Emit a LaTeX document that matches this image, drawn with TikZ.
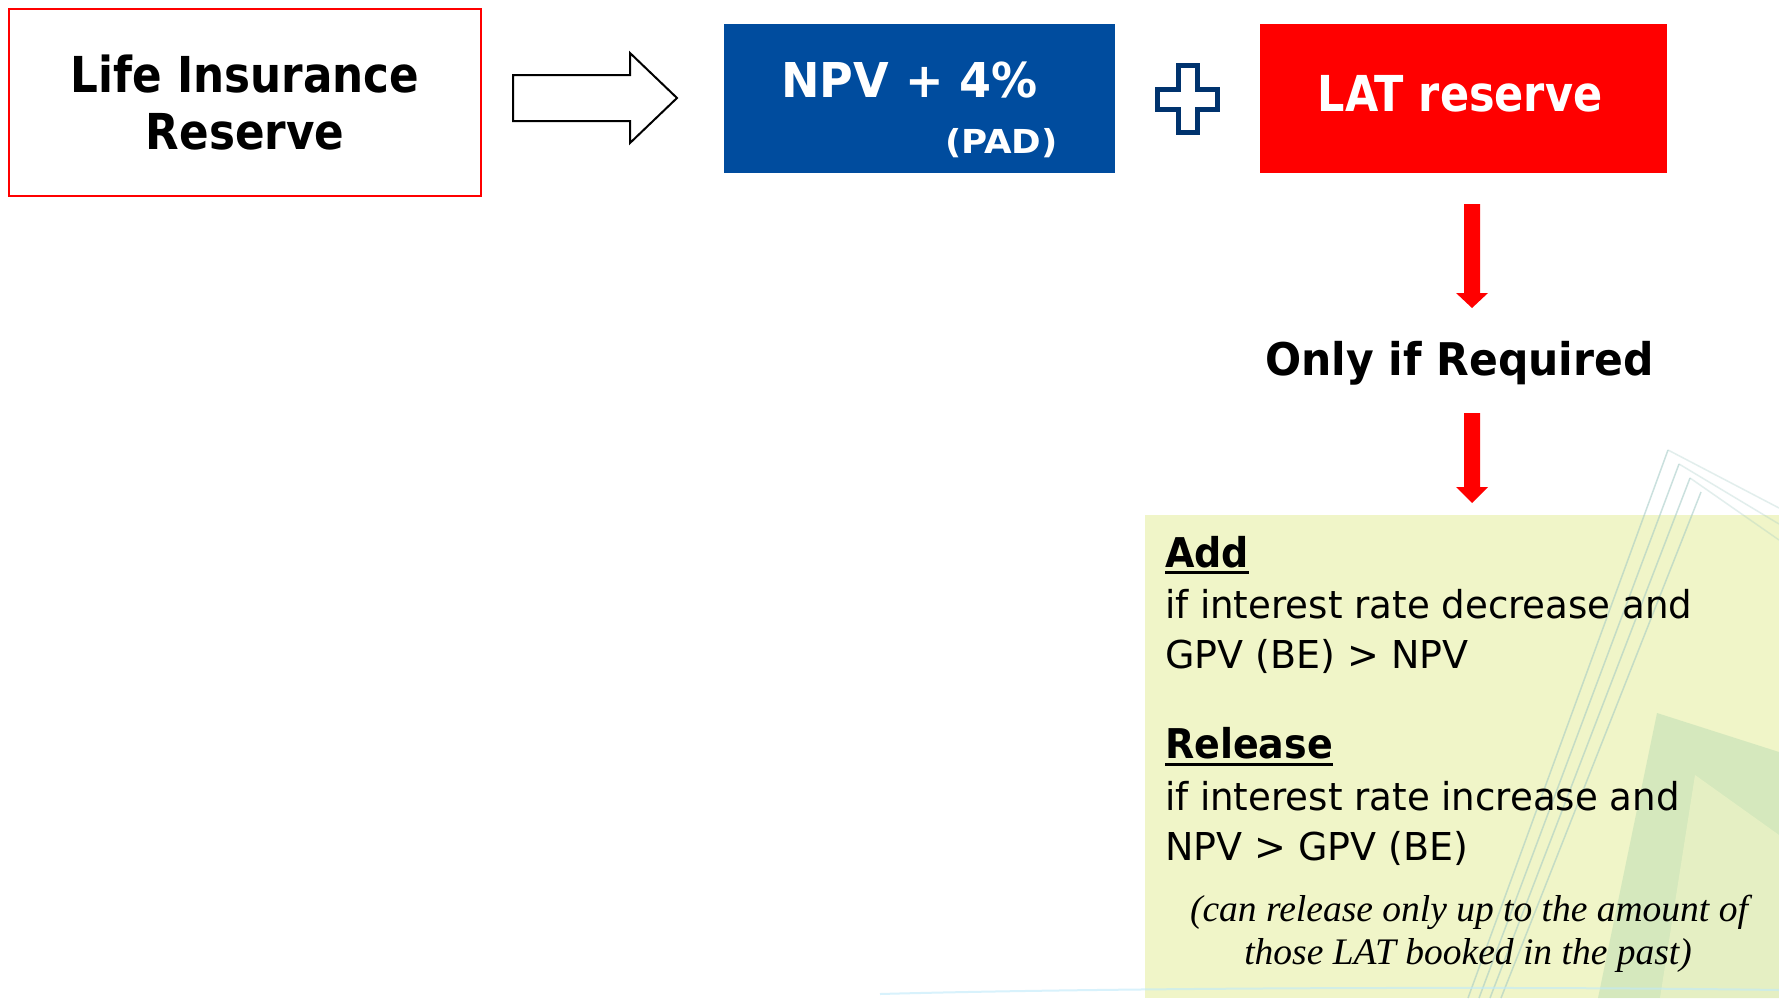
\documentclass[tikz,border=0pt]{standalone}
\usepackage{fontspec}
\usepackage{graphicx}
\setmainfont{DejaVu Sans Condensed}
\newfontfamily\notefont{Liberation Serif}
\usetikzlibrary{arrows.meta}
\definecolor{npvblue}{RGB}{0,76,158}
\definecolor{plusblue}{RGB}{0,51,110}
\definecolor{boxgreen}{RGB}{240,245,200}
\definecolor{decogreen}{RGB}{120,190,150}
\definecolor{decoline}{RGB}{160,200,195}
\newcommand{\xs}[2]{\scalebox{#1}[1]{#2}}
\tikzset{
  txt/.style={inner sep=0pt, outer sep=0pt},
  titlefont/.style={font=\bfseries\fontsize{49.5}{57}\selectfont},
  bodyfont/.style={font=\fontsize{38.4}{50}\selectfont},
  headfont/.style={font=\bfseries\fontsize{41}{50}\selectfont},
  notestyle/.style={font=\notefont\itshape\fontsize{37.5}{43}\selectfont},
  redarrow/.style={fill=red},
}
\begin{document}
\begin{tikzpicture}[x=1pt,y=-1pt]
\useasboundingbox (0,0) rectangle (1779,998);
\fill[white] (0,0) rectangle (1779,998);

% left box
\node[draw=red, line width=1.5pt, minimum width=472pt, minimum height=187pt,
      inner sep=0pt, align=center, titlefont] (life) at (245,102.5) {\xs{0.98}{Life Insurance}\\\xs{0.98}{Reserve}};

% hollow arrow
\draw[line width=2pt, fill=white, miter limit=10] (513,75) -- (630,75) -- (630,53) -- (677,98)
  -- (630,143) -- (630,121) -- (513,121) -- cycle;

% NPV box
\node[fill=npvblue, minimum width=391pt, minimum height=149pt, inner sep=0pt] (npv) at (919.5,98.5) {};
\node[txt, anchor=base, text=white, font=\bfseries\fontsize{48}{56}\selectfont] (npvtxt) at (909.5,97) {\xs{1.065}{NPV + 4\%}};
\node[txt, anchor=base, text=white, font=\bfseries\fontsize{33}{40}\selectfont] (pad) at (1001.5,153) {\xs{1.2}{(PAD)}};

% plus sign
\draw[plusblue, line width=5pt, line join=miter] (1178.5,65.5) -- (1197.5,65.5) -- (1197.5,89.5)
  -- (1217.5,89.5) -- (1217.5,109.5) -- (1197.5,109.5) -- (1197.5,132.5) -- (1178.5,132.5)
  -- (1178.5,109.5) -- (1157.5,109.5) -- (1157.5,89.5) -- (1178.5,89.5) -- cycle;

% LAT box
\node[fill=red, minimum width=407pt, minimum height=149pt, inner sep=0pt] (lat) at (1463.5,98.5) {};
\node[txt, anchor=base, text=white, titlefont] (lattxt) at (1460,111) {\xs{0.965}{LAT reserve}};

% red arrow 1
\fill[redarrow] (1464,204) -- (1480,204) -- (1480,293) -- (1488,293) -- (1472,308)
  -- (1456,293) -- (1464,293) -- cycle;

\node[txt, anchor=base, font=\bfseries\fontsize{45}{54}\selectfont] (onlyif) at (1459.5,375) {\xs{1.05}{Only if Required}};

% red arrow 2
\fill[redarrow] (1464,413) -- (1480,413) -- (1480,487) -- (1488,487) -- (1472,503)
  -- (1456,487) -- (1464,487) -- cycle;

% green box
\fill[boxgreen] (1145,515) rectangle (1779,998);

% background decorations
\begin{scope}
\clip (0,0) rectangle (1779,998);
\fill[decogreen, opacity=0.22] (1657,713) -- (1779,752) -- (1779,998) -- (1598,998) -- cycle;
\fill[boxgreen, opacity=0.6] (1695,775) -- (1779,835) -- (1779,998) -- (1660,998) -- cycle;
\foreach \k in {0,1,2,3}{
  \draw[decoline, opacity=0.55, line width=1.5pt] (1668+11*\k,450+14*\k) -- (1468+11*\k,998);
}
\foreach \k in {0,1,2}{
  \draw[decoline, opacity=0.3, line width=1.5pt] (1668+11*\k,450+14*\k) -- (1779,508+16*\k);
}
\draw[cyan!25, opacity=0.6, line width=2pt] (880,994) .. controls (1100,988) and (1500,986) .. (1779,990);
\end{scope}

% green box text
\node[txt, anchor=base west, headfont] (add) at (1165,567) {\xs{1.03}{Add}};
\draw[line width=3pt] ([yshift=-5pt]add.base west) -- ([yshift=-5pt]add.base east);
\node[txt, anchor=base west, bodyfont] (add1) at (1165,618) {\xs{1.075}{if interest rate decrease and}};
\node[txt, anchor=base west, bodyfont] (add2) at (1165,668) {\xs{1.1}{GPV (BE) > NPV}};

\node[txt, anchor=base west, headfont] (rel) at (1165,758) {\xs{1.03}{Release}};
\draw[line width=3pt] ([yshift=-6pt]rel.base west) -- ([yshift=-6pt]rel.base east);
\node[txt, anchor=base west, bodyfont] (rel1) at (1165,810) {\xs{1.075}{if interest rate increase and}};
\node[txt, anchor=base west, bodyfont] (rel2) at (1165,860) {\xs{1.1}{NPV > GPV (BE)}};

\node[txt, anchor=base, notestyle] (note1) at (1469,921) {(can release only up to the amount of};
\node[txt, anchor=base, notestyle] (note2) at (1468,964) {those LAT booked in the past)};
\end{tikzpicture}
\end{document}
